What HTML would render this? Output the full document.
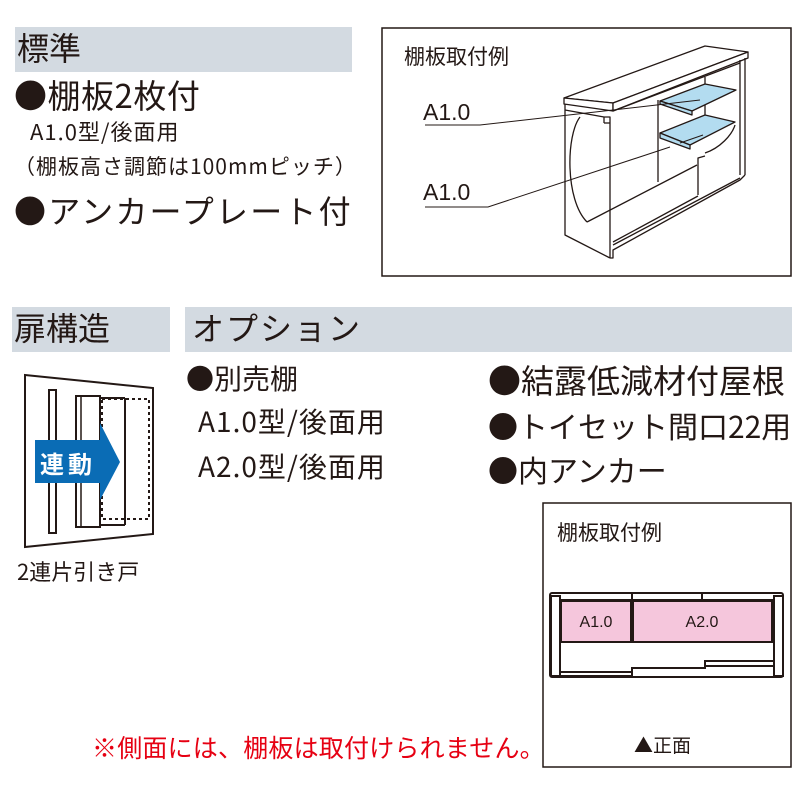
<!DOCTYPE html>
<html><head><meta charset="utf-8"><style>
body{margin:0;width:800px;height:800px;background:#fff;position:relative;overflow:hidden;font-family:"Noto Sans CJK JP","Liberation Sans",sans-serif;color:#231815}
.t{position:absolute;white-space:nowrap;line-height:1}
.bar{position:absolute;background:#d3dae1}
</style></head><body>
<div class="bar" style="left:15px;top:27px;width:337px;height:45px"></div>
<div class="t" style="left:17px;top:31px;font-size:32px">標準</div>
<div class="t" style="left:14px;top:78px;font-size:33px;letter-spacing:0.5px">●棚板2枚付</div>
<div class="t" style="left:30px;top:120px;font-size:22px;letter-spacing:1px">A1.0型/後面用</div>
<div class="t" style="left:14px;top:156px;font-size:21px;letter-spacing:1px">（棚板高さ調節は100mmピッチ）</div>
<div class="t" style="left:14px;top:194px;font-size:32px;letter-spacing:2.2px">●アンカープレート付</div>

<div class="bar" style="left:12px;top:307px;width:158px;height:45px"></div>
<div class="t" style="left:14px;top:311px;font-size:32px">扉構造</div>
<div class="bar" style="left:185px;top:307px;width:607px;height:45px"></div>
<div class="t" style="left:192px;top:311px;font-size:32px;letter-spacing:2px">オプション</div>

<div class="t" style="left:186px;top:364px;font-size:28px">●別売棚</div>
<div class="t" style="left:198px;top:407px;font-size:28px;letter-spacing:1px">A1.0型/後面用</div>
<div class="t" style="left:198px;top:452px;font-size:28px;letter-spacing:1px">A2.0型/後面用</div>
<div class="t" style="left:488px;top:363px;font-size:33px;letter-spacing:0px">●結露低減材付屋根</div>
<div class="t" style="left:488px;top:410px;font-size:30px;letter-spacing:0px">●トイセット間口22用</div>
<div class="t" style="left:488px;top:454px;font-size:30px">●内アンカー</div>

<div class="t" style="left:17px;top:560px;font-size:22px">2連片引き戸</div>
<div class="t" style="left:92px;top:735px;font-size:25px;letter-spacing:0.2px;color:#e60012">※側面には、棚板は取付けられません。</div>

<svg width="800" height="800" style="position:absolute;left:0;top:0" fill="none" stroke="#231815">
<rect x="382" y="28" width="409" height="248" stroke-width="1.5"/>
<text x="404" y="64" font-size="21" fill="#231815" stroke="none" font-family="Noto Sans CJK JP,sans-serif">棚板取付例</text>
<g stroke-width="1.3" stroke-linejoin="round">
<polygon points="564,98 705,46 748,52 613,103" fill="#fff"/>
<polygon points="564,98 613,103 613,111 564,104" fill="#fff"/>
<polygon points="613,103 748,52 748,58 613,111" fill="#fff"/>
<polyline points="565,104 565,235 610,258"/>
<polyline points="565,110 604,117 610,117 610,258"/>
<line x1="604" y1="117" x2="604" y2="123"/>
<line x1="604" y1="123" x2="610" y2="123"/>
<line x1="613" y1="111" x2="740" y2="63"/>
<line x1="740" y1="60" x2="740" y2="175"/>
<line x1="745" y1="58" x2="745" y2="175"/>
<polyline points="745,175 740,180 613,250 613,258 610,258"/>
<path d="M580,117 C566,135 565,200 587,222"/>
<line x1="587" y1="222" x2="697" y2="165"/>
<line x1="613" y1="245" x2="740" y2="178"/>
<line x1="613" y1="242" x2="698" y2="196"/>
<line x1="658" y1="100" x2="658" y2="182"/>
<line x1="705" y1="77" x2="705" y2="125"/>
<polyline points="698,195 698,158 705,156"/>
<path d="M705,153 C720,148 732,135 735,125"/>
<polygon points="660,101 705,84 736,90 692,111" fill="#b3dcf0"/>
<polygon points="660,101 692,111 692,115 660,104" fill="#b3dcf0"/>
<polygon points="660,133 705,115 735,122 690,145" fill="#b3dcf0"/>
<polygon points="660,133 690,145 690,149 660,138" fill="#b3dcf0"/>
</g>
<text x="423" y="120" font-size="23" fill="#231815" stroke="none" font-family="Liberation Sans,sans-serif">A1.0</text>
<text x="423" y="200" font-size="23" fill="#231815" stroke="none" font-family="Liberation Sans,sans-serif">A1.0</text>
<polyline points="425,125 480,125 613,110 700,100" stroke-width="1"/>
<polyline points="425,207 488,207 670,147" stroke-width="1"/>
<line x1="680" y1="143" x2="703" y2="135" stroke-width="1"/>

<polygon points="25,375 153,388 153,534 25,547" stroke-width="2"/>
<rect x="49" y="390" width="7" height="143" stroke-width="2"/>
<rect x="76" y="396" width="24" height="131" stroke-width="2"/>
<line x1="81" y1="396" x2="81" y2="527" stroke-width="1.5"/>
<rect x="102" y="399" width="47" height="120" stroke-width="2" stroke-dasharray="3,3"/>
<line x1="125" y1="398" x2="125" y2="525" stroke-width="2"/>
<line x1="100" y1="398" x2="125" y2="398" stroke-width="2"/>
<line x1="100" y1="525" x2="125" y2="525" stroke-width="2"/>
<polygon points="35,440 100,440 100,423 120,462 100,500 100,483 35,483" fill="#0a6cb5" stroke="none"/>
<text x="40" y="473" font-size="24" font-weight="bold" fill="#fff" stroke="none" font-family="Noto Sans CJK JP,sans-serif" letter-spacing="4">連動</text>

<rect x="543" y="503" width="248" height="264" stroke-width="1.5"/>
<text x="557" y="540" font-size="21" fill="#231815" stroke="none" font-family="Noto Sans CJK JP,sans-serif">棚板取付例</text>
<g stroke-width="2">
<rect x="550" y="593" width="233" height="84" rx="2"/>
<rect x="551" y="596" width="9" height="80"/>
<rect x="774" y="596" width="9" height="80"/>
<line x1="560" y1="600" x2="774" y2="600"/>
<line x1="632" y1="593" x2="632" y2="600"/>
<line x1="702" y1="593" x2="702" y2="600"/>
<polyline points="560,672 632,672 632,668 705,668 705,661 774,661"/>
<polyline points="560,676 632,676 632,672"/>
<line x1="705" y1="666" x2="774" y2="666"/>
</g>
<rect x="561" y="601" width="70" height="41" fill="#f5c6dc" stroke-width="2"/>
<rect x="633" y="601" width="139" height="41" fill="#f5c6dc" stroke-width="2"/>
<text x="596" y="627" font-size="16" text-anchor="middle" fill="#231815" stroke="none" font-family="Liberation Sans,sans-serif">A1.0</text>
<text x="702" y="627" font-size="16" text-anchor="middle" fill="#231815" stroke="none" font-family="Liberation Sans,sans-serif">A2.0</text>
<text x="634" y="752" font-size="19" fill="#231815" stroke="none" font-family="Noto Sans CJK JP,sans-serif">▲正面</text>
</svg>
</body></html>
